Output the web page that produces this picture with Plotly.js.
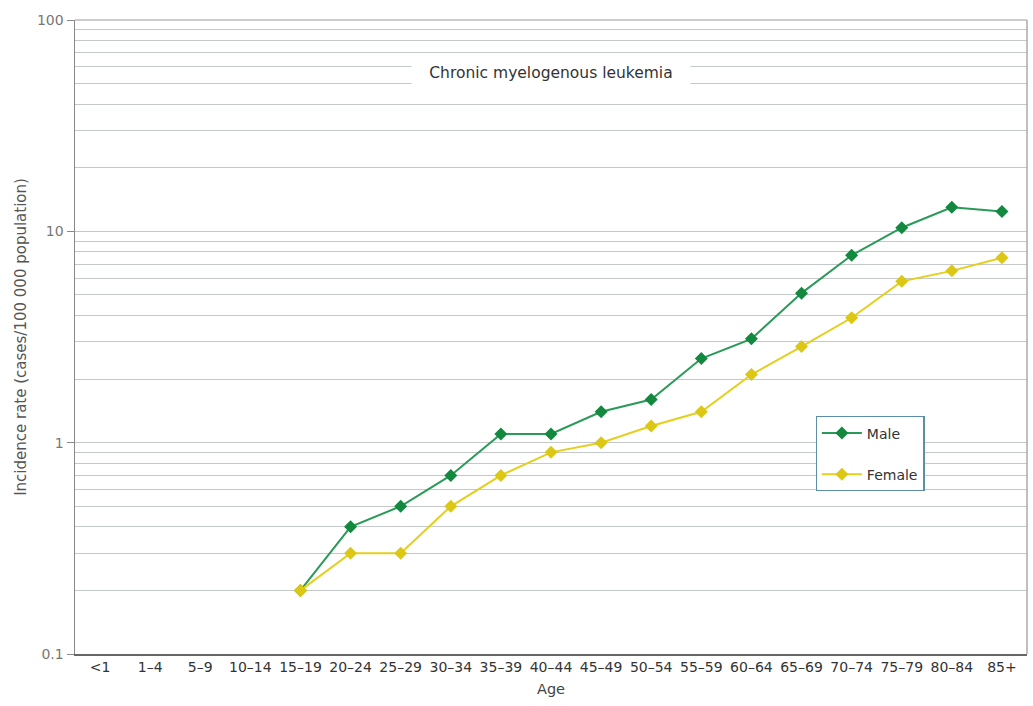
<!DOCTYPE html>
<html>
<head>
<meta charset="utf-8">
<script src="https://cdn.plot.ly/plotly-3.0.1.min.js"></script>
<style>html,body{margin:0;padding:0;background:#fff;}#chart{width:1033px;height:706px;}</style>
</head>
<body>
<div id="chart"></div>
<script>
const ageGroups = ["<1","1–4","5–9","10–14","15–19","20–24","25–29","30–34","35–39","40–44","45–49","50–54","55–59","60–64","65–69","70–74","75–79","80–84","85+"];
const maleRate = [null,null,null,null,0.2,0.4,0.5,0.7,1.1,1.1,1.4,1.6,2.5,3.1,5.1,7.7,10.4,13.0,12.4];
const femaleRate = [null,null,null,null,0.2,0.3,0.3,0.5,0.7,0.9,1.0,1.2,1.4,2.1,2.85,3.9,5.8,6.5,7.5];
const majorTicks = [0.1,1,10,100];
const majorLabels = ["0.1","1","10","100"];
const minorGrid = [0.2,0.3,0.4,0.5,0.6,0.7,0.8,0.9,2,3,4,5,6,7,8,9,20,30,40,50,60,70,80,90];
const chartTitle = "Chronic myelogenous leukemia";

const FONT = "DejaVu Sans, Liberation Sans, sans-serif";

const traces = [
  {x: ageGroups, y: maleRate, name: "Male", legendgroup: "m", legendrank: 1, type: "scatter", mode: "lines+markers",
   line: {color: "#2a9a58", width: 2}, marker: {symbol: "diamond", size: 10, color: "#13893f"}},
  {x: ageGroups, y: femaleRate, name: "Female", legendgroup: "f", legendrank: 2, type: "scatter", mode: "lines+markers",
   line: {color: "#e3cf1c", width: 2}, marker: {symbol: "diamond", size: 10, color: "#dcc814"}}
];

const layout = {
  width: 1033, height: 706,
  margin: {l: 75, r: 6, t: 20, b: 52},
  paper_bgcolor: "#ffffff", plot_bgcolor: "#ffffff",
  font: {family: FONT, color: "#444", size: 13},
  showlegend: true,
  legend: {x: 0.778, y: 0.375, xanchor: "left", yanchor: "top", bgcolor: "#ffffff",
    bordercolor: "#5e8ea6", borderwidth: 1.2, font: {family: FONT, size: 14, color: "#333"},
    traceorder: "grouped", tracegroupgap: 20, itemwidth: 40},
  xaxis: {type: "category", range: [-0.5, 18.5], showgrid: false, zeroline: false,
    showline: true, linecolor: "#666", linewidth: 1.5, mirror: false, ticks: "",
    tickfont: {family: FONT, size: 14, color: "#333"},
    title: {text: "Age", font: {family: FONT, size: 14.5, color: "#444"}, standoff: 9}},
  yaxis: {type: "log", range: [-1, 2], tickmode: "array", tickvals: majorTicks, ticktext: majorLabels,
    showgrid: true, gridcolor: "#c4c8cb", gridwidth: 1,
    showline: true, linecolor: "#888", linewidth: 1.5, ticks: "outside", ticklen: 7, tickcolor: "#888",
    tickfont: {family: FONT, size: 14, color: "#777"},
    minor: {tickmode: "array", tickvals: minorGrid, showgrid: true, gridcolor: "#c4c8cb", gridwidth: 1, ticks: ""},
    title: {text: "Incidence rate (cases/100 000 population)", font: {family: FONT, size: 15, color: "#555"}, standoff: 6}},
  shapes: [
    {type: "line", xref: "paper", yref: "paper", x0: 1, x1: 1, y0: 0, y1: 1, line: {color: "#aaa", width: 1.5}},
    {type: "line", xref: "paper", yref: "paper", x0: 0, x1: 1, y0: 1, y1: 1, line: {color: "#bbb", width: 1.5}}
  ],
  annotations: [
    {text: chartTitle, xref: "paper", yref: "y", x: 0.5, y: Math.log10(56), showarrow: false,
     font: {family: FONT, size: 15.5, color: "#333"}, bgcolor: "#ffffff", borderpad: 0, width: 278, height: 26}
  ]
};

Plotly.newPlot("chart", traces, layout, {displayModeBar: false, staticPlot: true});
</script>
</body>
</html>
